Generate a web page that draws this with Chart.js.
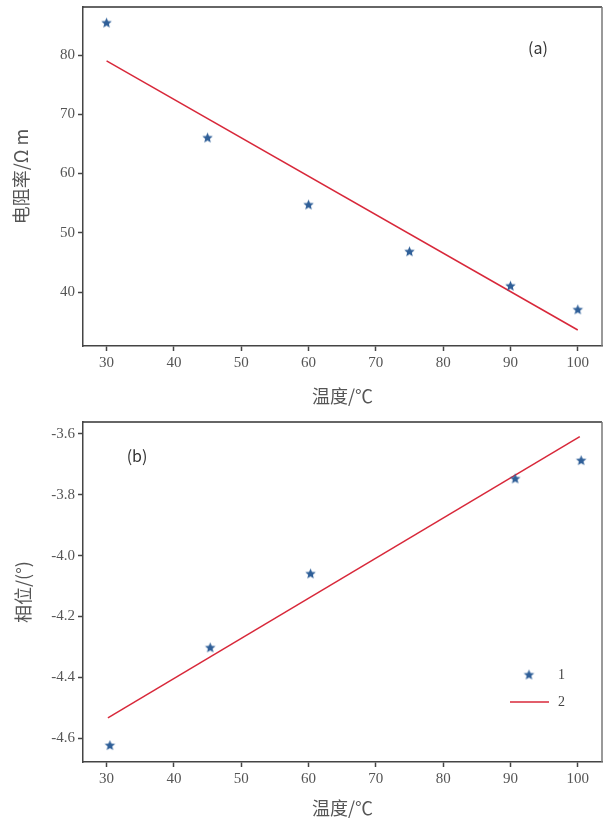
<!DOCTYPE html>
<html><head><meta charset="utf-8">
<script src="https://cdn.jsdelivr.net/npm/chart.js@4/dist/chart.umd.min.js"></script>
<style>
html,body{margin:0;padding:0;background:#fff;}
#wrap{position:relative;width:609px;height:819px;}
#c1{position:absolute;left:0;top:0;}
#c2{position:absolute;left:0;top:410px;}
</style></head>
<body><div id="wrap"><canvas id="c1" width="609" height="410"></canvas><canvas id="c2" width="609" height="409"></canvas></div>
<script>
// ---- data ----
const tempA = [30, 45, 60, 75, 90, 100];
const resistivity = [85.4, 66.0, 54.7, 46.8, 41.0, 37.0];
const fitTempA = [30, 100];
const fitResistivity = [79.0, 33.6];

const tempB = [30.5, 45.4, 60.3, 90.7, 100.5];
const phase = [-4.624, -4.303, -4.06, -3.748, -3.688];
const fitTempB = [30.2, 100.3];
const fitPhase = [-4.533, -3.609];

const xTicks = [30, 40, 50, 60, 70, 80, 90, 100];
const yTicksA = [40, 50, 60, 70, 80];
const yTicksB = [-4.6, -4.4, -4.2, -4.0, -3.8, -3.6];
const legendLabels = ['1', '2'];

// ---- styles ----
const STAR_COLOR = '#2f5f98';
const LINE_COLOR = '#d8283a';
const AXIS_COLOR = '#444';
const TICK_FONT = {family: "'Liberation Serif', 'DejaVu Serif', serif", size: 15};
const TITLE_FONT = {family: "'Noto Sans CJK SC', sans-serif", size: 18};

function makeStar(r) {
  const c = document.createElement('canvas');
  const s = Math.ceil(r * 2 + 2);
  c.width = s; c.height = s;
  const g = c.getContext('2d');
  g.fillStyle = STAR_COLOR;
  g.beginPath();
  for (let i = 0; i < 10; i++) {
    const rad = i % 2 === 0 ? r : r * 0.45;
    const a = -Math.PI / 2 + i * Math.PI / 5;
    const px = s / 2 + rad * Math.cos(a), py = s / 2 + rad * Math.sin(a);
    if (i === 0) g.moveTo(px, py); else g.lineTo(px, py);
  }
  g.closePath();
  g.fill();
  return c;
}
const star = makeStar(5.5);

function zip(xs, ys) { return xs.map((x, i) => ({x: x, y: ys[i]})); }

function framePlugin(tag, tagPos, withLegend) {
  return {
    id: 'frame' + tag,
    afterDatasetsDraw(chart) {
      const ctx = chart.ctx, a = chart.chartArea;
      ctx.save();
      ctx.lineWidth = 1.5;
      ctx.strokeStyle = '#333';
      ctx.beginPath(); ctx.moveTo(a.left, a.top); ctx.lineTo(a.right, a.top); ctx.stroke();
      ctx.strokeStyle = '#777';
      ctx.beginPath(); ctx.moveTo(a.right, a.top); ctx.lineTo(a.right, a.bottom); ctx.stroke();
      ctx.fillStyle = '#333';
      ctx.font = "16px 'Noto Sans CJK SC', 'DejaVu Sans', sans-serif";
      ctx.textAlign = 'center'; ctx.textBaseline = 'middle';
      ctx.fillText(tag, tagPos[0], tagPos[1]);
      if (withLegend) {
        ctx.drawImage(star, 529 - star.width / 2, 675 - 410 - star.height / 2);
        ctx.strokeStyle = LINE_COLOR; ctx.lineWidth = 1.5;
        ctx.beginPath(); ctx.moveTo(510, 702 - 410); ctx.lineTo(549, 702 - 410); ctx.stroke();
        ctx.fillStyle = '#444';
        ctx.font = "14px 'Liberation Serif', serif";
        ctx.textAlign = 'left';
        ctx.fillText(chart.data.datasets[0].label, 558, 675 - 410);
        ctx.fillText(chart.data.datasets[1].label, 558, 702 - 410);
      }
      ctx.restore();
    }
  };
}

function makeChart(id, cfg) {
  const yFit = s => { s.width = 83; s.paddingTop = 0; s.paddingBottom = 0; };
  const xFit = s => { s.height = cfg.xHeight; s.paddingLeft = 0; s.paddingRight = 0; };
  return new Chart(document.getElementById(id), {
    type: 'scatter',
    data: {
      datasets: [
        {label: legendLabels[0], data: zip(cfg.xs, cfg.ys), pointStyle: star, pointRadius: 6, showLine: false, backgroundColor: STAR_COLOR, borderColor: STAR_COLOR},
        {label: legendLabels[1], type: 'line', data: zip(cfg.fx, cfg.fy), borderColor: LINE_COLOR, borderWidth: 1.5, pointRadius: 0, fill: false}
      ]
    },
    options: {
      responsive: false, animation: false, devicePixelRatio: 1,
      layout: {padding: {left: 0, right: 5, top: cfg.top, bottom: 0}},
      plugins: {legend: {display: false}, tooltip: {enabled: false}},
      scales: {
        x: {
          type: 'linear', min: 26.5, max: 103.6,
          afterBuildTicks: s => { s.ticks = xTicks.map(v => ({value: v})); },
          afterFit: xFit,
          border: {display: true, color: AXIS_COLOR, width: 1.5},
          grid: {display: true, drawOnChartArea: false, drawTicks: true, tickLength: 5, tickColor: AXIS_COLOR, tickWidth: 1.5},
          ticks: {color: '#555', font: TICK_FONT, padding: 3, maxRotation: 0},
          title: {display: true, text: '温度/℃', color: '#555', font: TITLE_FONT, padding: {top: 0, bottom: cfg.xTitlePad}}
        },
        y: {
          type: 'linear', min: cfg.ymin, max: cfg.ymax,
          afterBuildTicks: s => { s.ticks = cfg.yTicks.map(v => ({value: v})); },
          afterFit: yFit,
          border: {display: true, color: AXIS_COLOR, width: 1.5},
          grid: {display: true, drawOnChartArea: false, drawTicks: true, tickLength: 5, tickColor: AXIS_COLOR, tickWidth: 1.5},
          ticks: {color: '#555', font: TICK_FONT, padding: 3, callback: cfg.yFmt},
          title: {display: true, text: cfg.yTitle, color: '#555', font: TITLE_FONT, padding: {top: cfg.yTitlePad, bottom: 0}}
        }
      }
    },
    plugins: [framePlugin(cfg.tag, cfg.tagPos, cfg.legend)]
  });
}

makeChart('c1', {
  xs: tempA, ys: resistivity, fx: fitTempA, fy: fitResistivity,
  ymin: 30.9, ymax: 88.1, yTicks: yTicksA, yFmt: v => String(v),
  yTitle: '电阻率/Ω m', yTitlePad: 10, xTitlePad: 3, xHeight: 64, top: 7,
  tag: '(a)', tagPos: [538, 48], legend: false
});
makeChart('c2', {
  xs: tempB, ys: phase, fx: fitTempB, fy: fitPhase,
  ymin: -4.678, ymax: -3.561, yTicks: yTicksB, yFmt: v => v.toFixed(1),
  yTitle: '相位/(°)', yTitlePad: 12, xTitlePad: 0, xHeight: 409 - 352, top: 12,
  tag: '(b)', tagPos: [137, 456 - 410], legend: true
});
</script>
</body></html>
